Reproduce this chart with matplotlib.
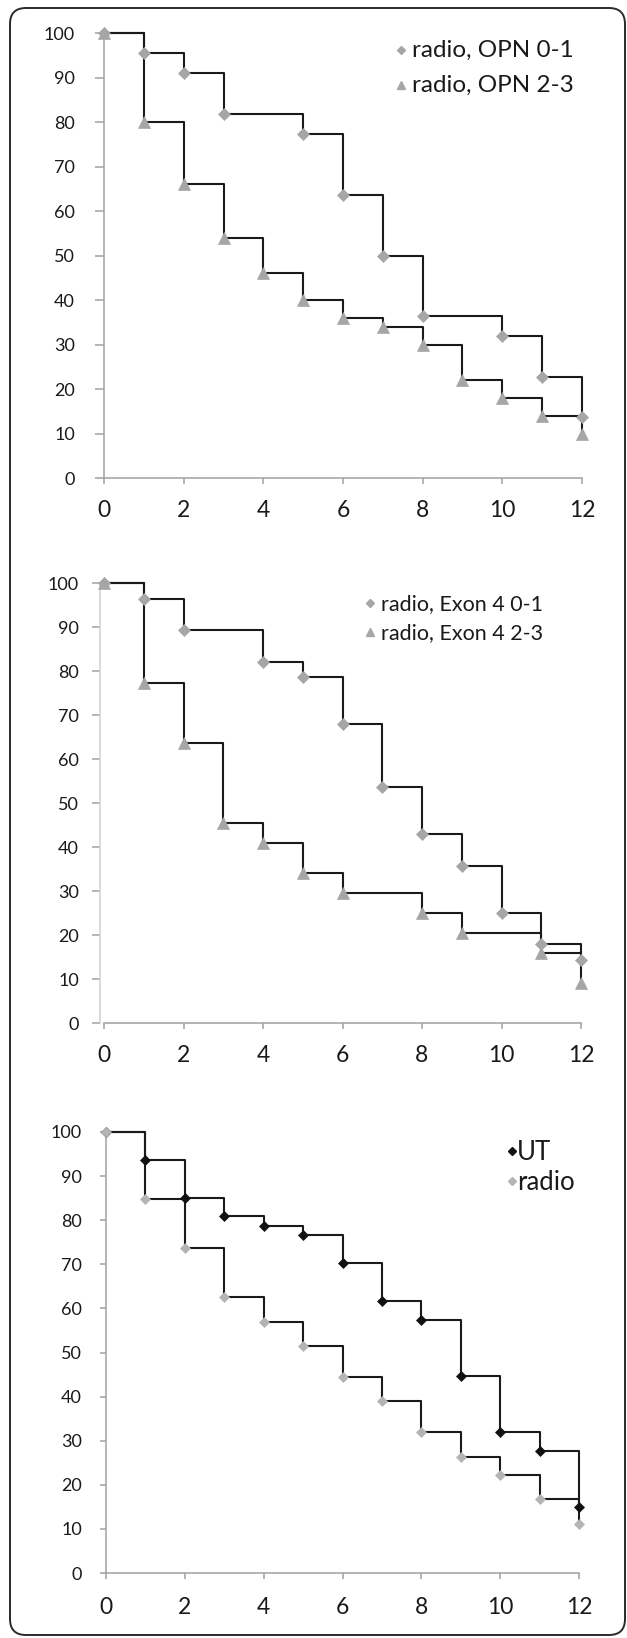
import matplotlib
matplotlib.use("Agg")
import matplotlib.pyplot as plt
from matplotlib.lines import Line2D
from matplotlib.patches import FancyBboxPatch
from matplotlib.transforms import IdentityTransform

W, H = 627, 1638
INK = "#1A1A1A"
GREY = "#A6A6A6"
LIGHT = "#B4B4B4"
AXIS = "#A0A0A0"

plt.rcParams["font.family"] = ["Lato", "DejaVu Sans"]

# survival (%) by time; only points that carry a marker
opn01_x = [0, 1, 2, 3, 5, 6, 7, 8, 10, 11, 12]
opn01_y = [100, 95.5, 90.9, 81.8, 77.3, 63.6, 50.0, 36.4, 31.8, 22.7, 13.6]
opn23_x = [0, 1, 2, 3, 4, 5, 6, 7, 8, 9, 10, 11, 12]
opn23_y = [100, 80, 66, 54, 46, 40, 36, 34, 30, 22, 18, 14, 10]

exon01_x = [0, 1, 2, 4, 5, 6, 7, 8, 9, 10, 11, 12]
exon01_y = [100, 96.4, 89.3, 82.1, 78.6, 67.9, 53.6, 42.9, 35.7, 25.0, 17.9, 14.3]
exon23_x = [0, 1, 2, 3, 4, 5, 6, 8, 9, 11, 12]
exon23_y = [100, 77.3, 63.6, 45.5, 40.9, 34.1, 29.5, 25.0, 20.4, 15.9, 9.1]

ut_x = [0, 1, 2, 3, 4, 5, 6, 7, 8, 9, 10, 11, 12]
ut_y = [100, 93.6, 85.1, 80.9, 78.7, 76.6, 70.2, 61.7, 57.4, 44.7, 31.9, 27.7, 14.9]
radio_x = [0, 1, 2, 3, 4, 5, 6, 7, 8, 9, 10, 11, 12]
radio_y = [100, 84.7, 73.6, 62.5, 56.9, 51.4, 44.4, 38.9, 31.9, 26.4, 22.2, 16.7, 11.1]

x_ticks = list(range(0, 13, 2))
y_ticks = list(range(0, 101, 10))

PT = 0.72  # points per pixel at dpi 100

fig = plt.figure(figsize=(W / 100, H / 100), dpi=100)
fig.patch.set_facecolor("white")


def make_axes(x0, x12, y0, y100, ytick_len, ylab_pad, xlab_pad, ycolor=AXIS, yshift=0):
    ax = fig.add_axes([x0 / W, 1 - y0 / H, (x12 - x0) / W, (y0 - y100) / H])
    ax.set_xlim(0, 12)
    ax.set_ylim(0, 100)
    ax.set_xticks(x_ticks)
    ax.set_yticks(y_ticks)
    for side in ("top", "right"):
        ax.spines[side].set_visible(False)
    ax.spines["left"].set_color(ycolor)
    ax.spines["bottom"].set_color(AXIS)
    ax.spines["left"].set_linewidth(1.1)
    ax.spines["bottom"].set_linewidth(1.1)
    if yshift:
        ax.spines["left"].set_position(("outward", yshift * PT))
    ax.tick_params(axis="y", length=ytick_len * PT, width=1.1, color=AXIS,
                   pad=ylab_pad * PT, labelsize=13, labelcolor=INK)
    ax.tick_params(axis="x", length=6 * PT, width=1.1, color=AXIS,
                   pad=xlab_pad * PT, labelsize=16.5, labelcolor=INK)
    ax.patch.set_alpha(0)
    return ax


def km(ax, x, y, marker, ms, color, lines=True):
    if lines:
        ax.step(x, y, where="post", color=INK, lw=1.5, zorder=2, clip_on=False)
    ax.plot(x, y, ls="none", marker=marker, ms=ms, mfc=color, mec=color,
            mew=0.5, zorder=3, clip_on=False)


def key(entries, mx, tx, baselines, size, lift):
    for (label, marker, ms, color), base in zip(entries, baselines):
        fig.add_artist(Line2D([mx / W], [1 - (base - lift) / H], ls="none",
                              marker=marker, ms=ms, mfc=color, mec=color,
                              transform=fig.transFigure))
        fig.text(tx / W, 1 - base / H, label, fontsize=size, color=INK,
                 ha="left", va="baseline")


# panel 1: OPN
ax1 = make_axes(104, 582, 478, 33, 9, 20, 16)
km(ax1, opn01_x, opn01_y, "D", 6, GREY)
km(ax1, opn23_x, opn23_y, "^", 8.5, GREY)
key([("radio, OPN 0-1", "D", 4, GREY), ("radio, OPN 2-3", "^", 6, GREY)],
    401, 412, [57, 92], 17.5, 7)

# panel 2: Exon 4
ax2 = make_axes(104, 581, 1023, 583, 8, 13, 16, ycolor="#CFCFCF", yshift=4)
km(ax2, exon01_x, exon01_y, "D", 6, GREY)
km(ax2, exon23_x, exon23_y, "^", 8.5, GREY)
key([("radio, Exon 4 0-1", "D", 4, GREY), ("radio, Exon 4 2-3", "^", 6, GREY)],
    370, 381, [610, 639], 15.5, 7)

# panel 3: UT vs radio
ax3 = make_axes(106, 579, 1573, 1132, 6, 18, 18)
km(ax3, radio_x, radio_y, "D", 5.5, LIGHT)
km(ax3, ut_x, ut_y, "D", 5.5, "#111111")
km(ax3, radio_x[:1], radio_y[:1], "D", 5.5, LIGHT, lines=False)
key([("UT", "D", 4.2, "#111111"), ("radio", "D", 4.2, LIGHT)],
    512, 517, [1160, 1190], 18.5, 9)

frame = FancyBboxPatch((10, H - 1635), 615, 1627,
                       boxstyle="round,pad=0,rounding_size=16",
                       fill=False, edgecolor="#2A2A2A", linewidth=1.4,
                       transform=IdentityTransform())
fig.add_artist(frame)

fig.savefig("out.png", dpi=100)
